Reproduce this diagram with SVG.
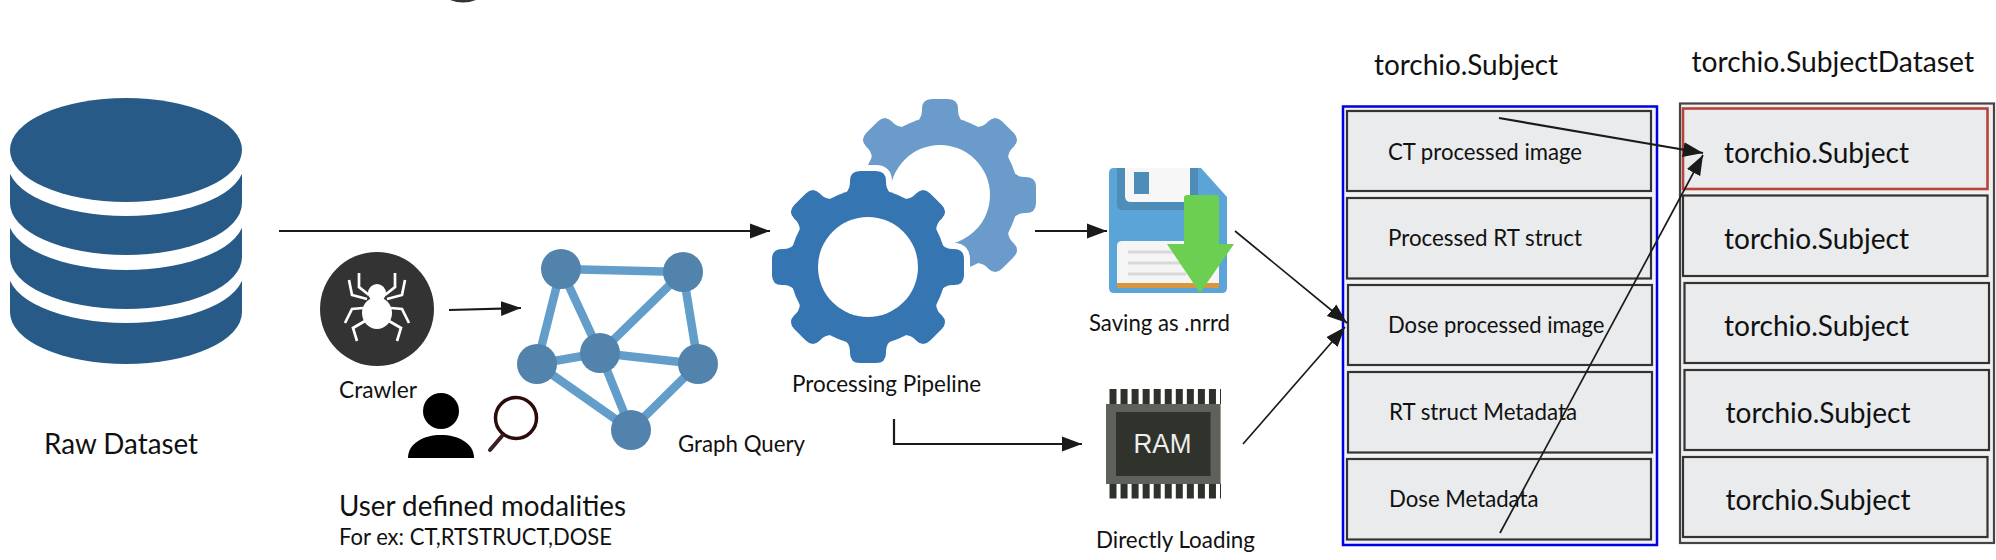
<svg xmlns="http://www.w3.org/2000/svg" xmlns:xlink="http://www.w3.org/1999/xlink" width="1996" height="560" viewBox="0 0 1996 560">
<style>
text{font-family:Lato,"Open Sans","Liberation Sans",sans-serif;fill:#111}
.db{fill:#285a87}.wh{fill:#fff}
.c{fill:none;stroke:#1a1a1a;stroke-width:2.2;marker-end:url(#a)}
.t{fill:none;stroke:#1a1a1a;stroke-width:1.7;marker-end:url(#a)}
.ne{stroke:#639dc9;stroke-width:8.5}.nn{fill:#5283ac}
.leg{fill:none;stroke:#fff;stroke-width:2.7}
.row{fill:#e9ebed;stroke:#333;stroke-width:2.2}
.s22{font-size:24px}.s27{font-size:29px}
</style>
<defs>
<marker id="a" markerUnits="userSpaceOnUse" markerWidth="20" markerHeight="16" refX="20" refY="8" orient="auto"><path d="M0,0.5L20,8L0,15.5Z" fill="#1a1a1a"/></marker>
<path id="tooth" d="M-27,-70Q-18,-76-18,-84V-86Q-18,-96-8,-96H8Q18,-96 18,-86V-84Q18,-76 27,-70Z"/>
<g id="gear"><circle r="78"/>
<use xlink:href="#tooth"/><use xlink:href="#tooth" transform="rotate(45)"/><use xlink:href="#tooth" transform="rotate(90)"/><use xlink:href="#tooth" transform="rotate(135)"/><use xlink:href="#tooth" transform="rotate(180)"/><use xlink:href="#tooth" transform="rotate(225)"/><use xlink:href="#tooth" transform="rotate(270)"/><use xlink:href="#tooth" transform="rotate(315)"/></g>
</defs>
<rect width="1996" height="560" fill="#fff"/>
<path id="title-remnant" d="M450,0Q463,5 476,0Z" fill="#333"/>
<g id="raw-dataset">
<rect class="db" x="10" y="271" width="232" height="41"/><ellipse class="db" cx="126" cy="312" rx="116" ry="52"/>
<ellipse class="wh" cx="126" cy="271" rx="118" ry="52"/>
<rect class="db" x="10" y="218" width="232" height="39"/><ellipse class="db" cx="126" cy="257" rx="116" ry="52"/>
<ellipse class="wh" cx="126" cy="218" rx="118" ry="52"/>
<rect class="db" x="10" y="164" width="232" height="39"/><ellipse class="db" cx="126" cy="203" rx="116" ry="52"/>
<ellipse class="wh" cx="126" cy="164" rx="118" ry="52"/>
<ellipse class="db" cx="126" cy="150" rx="116" ry="52"/>
<text x="44" y="454" font-size="29" textLength="154" lengthAdjust="spacingAndGlyphs">Raw Dataset</text>
</g>
<g id="crawler">
<circle cx="377" cy="309" r="57" fill="#333"/>
<ellipse cx="377" cy="313" rx="15" ry="16" fill="#fff"/><circle cx="377" cy="293" r="9" fill="#fff"/>
<path class="leg" d="M359,273V287L369,295M395,273V287L385,295M349,280L352,295L367,299M405,280L402,295L387,299M345,323L352,309L363,308M409,323L402,309L391,308M357,341L353,328L365,321M397,341L401,328L389,321"/>
<text class="s22" x="339" y="398" textLength="78" lengthAdjust="spacingAndGlyphs">Crawler</text>
</g>
<g id="graph-query">
<path class="ne" d="M561,269L683,272M561,269L537,364M561,269L600,353M537,364L600,353M537,364L631,430M600,353L631,430M600,353L683,272M600,353L698,364M683,272L698,364M698,364L631,430"/>
<circle class="nn" cx="561" cy="269" r="20"/><circle class="nn" cx="537" cy="364" r="20"/><circle class="nn" cx="600" cy="353" r="20"/><circle class="nn" cx="631" cy="430" r="20"/><circle class="nn" cx="683" cy="272" r="20"/><circle class="nn" cx="698" cy="364" r="20"/>
<text class="s22" x="678" y="452" textLength="127" lengthAdjust="spacingAndGlyphs">Graph Query</text>
</g>
<g id="user-query">
<ellipse cx="441" cy="411" rx="18" ry="18"/>
<path d="M408,458C408,443 424,435 441,435C458,435 474,443 474,458Z"/>
<circle cx="516" cy="418" r="20.500" fill="none" stroke="#2d0b0b" stroke-width="3.500"/>
<path d="M502,436L490,450" stroke="#3a2020" stroke-width="4" stroke-linecap="round" fill="none"/>
<text x="339" y="516" font-size="28" textLength="287" lengthAdjust="spacingAndGlyphs">User defined modalities</text>
<text x="339" y="545" font-size="23" textLength="273" lengthAdjust="spacingAndGlyphs">For ex: CT,RTSTRUCT,DOSE</text>
</g>
<g id="processing-pipeline">
<use xlink:href="#gear" transform="translate(940,195)" fill="#6a9bcb"/>
<circle cx="940" cy="195" r="50" fill="#fff"/>
<use xlink:href="#gear" transform="translate(868,267)" fill="#fff" stroke="#fff" stroke-width="12"/>
<use xlink:href="#gear" transform="translate(868,267)" fill="#3575b2"/>
<circle cx="868" cy="267" r="50" fill="#fff"/>
<text class="s22" x="792" y="392" textLength="189" lengthAdjust="spacingAndGlyphs">Processing Pipeline</text>
</g>
<g id="saving-nrrd">
<path d="M1115,168H1201L1227,197V288Q1227,293 1222,293H1114Q1109,293 1109,288V173Q1109,168 1114,168Z" fill="#5ba4d7"/>
<path d="M1117,168H1198V204Q1198,210 1192,210H1123Q1117,210 1117,204Z" fill="#4e8db8"/>
<path d="M1125,168H1190V202H1131Q1125,202 1125,196Z" fill="#f7f7f7"/>
<rect x="1134" y="172" width="15" height="22" fill="#4e8db8"/>
<path d="M1122,241H1219V288H1117V246Q1117,241 1122,241Z" fill="#f5f5f5"/>
<rect x="1117" y="283" width="102" height="5" fill="#d9963a"/>
<path d="M1128,252H1186M1128,263H1186M1128,274H1186" stroke="#d9d9d9" stroke-width="3"/>
<path d="M1187,195H1216Q1219,195 1219,198V244H1234L1200,293L1167,244H1184V198Q1184,195 1187,195Z" fill="#6dcf51"/>
<text class="s22" x="1089" y="331" textLength="141" lengthAdjust="spacingAndGlyphs">Saving as .nrrd</text>
</g>
<g id="directly-loading">
<path d="M1109.500,396.500H1221M1109.500,491H1221" stroke="#2f322c" stroke-width="15" stroke-dasharray="7 4.050" fill="none"/>
<rect x="1106" y="404" width="114.600" height="80" fill="#5e625b"/>
<rect x="1116" y="412" width="94.500" height="64" fill="#30332c"/>
<text x="1133.500" y="453" font-size="27.500" textLength="58" lengthAdjust="spacingAndGlyphs" style="font-family:'Liberation Sans',sans-serif;fill:#eee">RAM</text>
<text class="s22" x="1096" y="548" textLength="159" lengthAdjust="spacingAndGlyphs">Directly Loading</text>
</g>
<g id="torchio-subject">
<text class="s27" x="1374" y="75" textLength="184" lengthAdjust="spacingAndGlyphs">torchio.Subject</text>
<rect x="1343" y="106.500" width="314" height="438.500" fill="#f2f2f2" stroke="#0000e0" stroke-width="2.500"/>
<rect class="row" x="1347" y="111" width="304" height="80"/>
<rect class="row" x="1347" y="198" width="304" height="80.500"/>
<rect class="row" x="1348" y="285" width="304" height="80"/>
<rect class="row" x="1348" y="372" width="304" height="80.500"/>
<rect class="row" x="1347" y="459" width="304" height="80.500"/>
<text class="s22" x="1388" y="160" textLength="194" lengthAdjust="spacingAndGlyphs">CT processed image</text>
<text class="s22" x="1388" y="246" textLength="194" lengthAdjust="spacingAndGlyphs">Processed RT struct</text>
<text class="s22" x="1388" y="333" textLength="216.500" lengthAdjust="spacingAndGlyphs">Dose processed image</text>
<text class="s22" x="1389" y="420" textLength="188" lengthAdjust="spacingAndGlyphs">RT struct Metadata</text>
<text class="s22" x="1389" y="507" textLength="149.500" lengthAdjust="spacingAndGlyphs">Dose Metadata</text>
</g>
<g id="torchio-subject-dataset">
<text class="s27" x="1691.500" y="72" textLength="282.500" lengthAdjust="spacingAndGlyphs">torchio.SubjectDataset</text>
<rect x="1680" y="103.500" width="314" height="439.500" fill="#f0f0f0" stroke="#444" stroke-width="2.200"/>
<rect class="row" x="1683" y="108.500" width="304.500" height="80.500" style="stroke:#b8433a;stroke-width:2.600"/>
<rect class="row" x="1683" y="195.500" width="304.500" height="80.500"/>
<rect class="row" x="1684.500" y="283" width="304.500" height="80"/>
<rect class="row" x="1684.500" y="370" width="304.500" height="80"/>
<rect class="row" x="1683" y="457" width="304.500" height="80"/>
<text class="s27" x="1724" y="162.500" textLength="185" lengthAdjust="spacingAndGlyphs">torchio.Subject</text>
<text class="s27" x="1724" y="249" textLength="185" lengthAdjust="spacingAndGlyphs">torchio.Subject</text>
<text class="s27" x="1724" y="336" textLength="185" lengthAdjust="spacingAndGlyphs">torchio.Subject</text>
<text class="s27" x="1725.500" y="423" textLength="185" lengthAdjust="spacingAndGlyphs">torchio.Subject</text>
<text class="s27" x="1725.500" y="510" textLength="185" lengthAdjust="spacingAndGlyphs">torchio.Subject</text>
</g>
<g id="connectors">
<path class="c" d="M279,231H770"/>
<path class="c" d="M449,310L521,308"/>
<path class="c" d="M1035,231H1107"/>
<path class="c" d="M894,419V444H1082"/>
<path class="t" d="M1235,231L1347,323"/>
<path class="t" d="M1243,444L1345,327"/>
<path class="c" d="M1499,118L1703,153"/>
<path class="t" d="M1500,533L1703,155"/>
</g>
</svg>
